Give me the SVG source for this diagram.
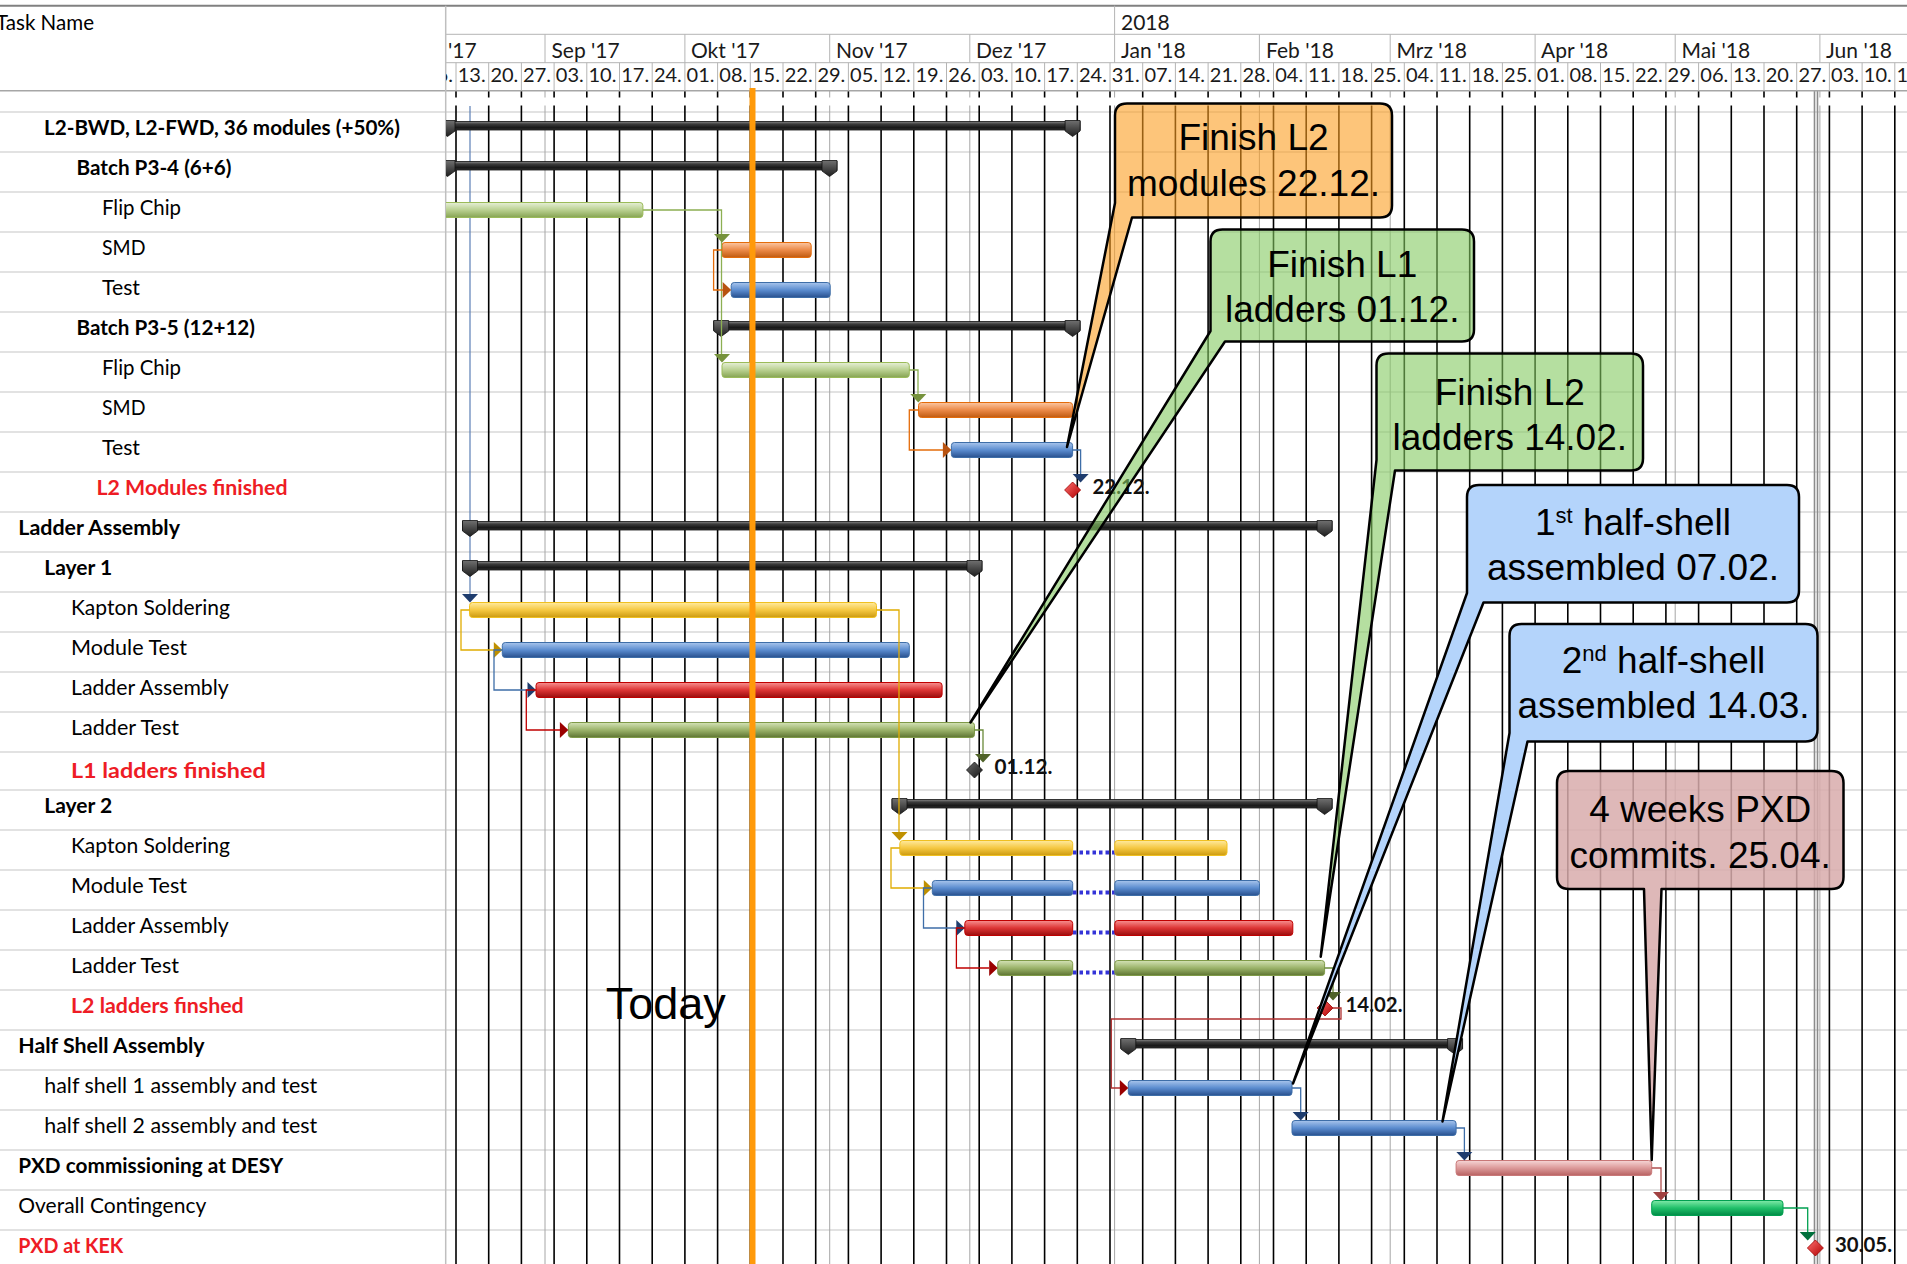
<svg xmlns="http://www.w3.org/2000/svg" xmlns:xlink="http://www.w3.org/1999/xlink" width="1907" height="1264" viewBox="0 0 1907 1264">
<style>
.lbl{font-family:Lato,"Open Sans","Liberation Sans",sans-serif;font-size:21px;fill:#000}
.b{font-weight:bold}
.red{fill:#ee1c25}
.hdr{font-family:Lato,"Open Sans","Liberation Sans",sans-serif;font-size:20px;fill:#1a1a1a}
.mon{font-family:Lato,"Open Sans","Liberation Sans",sans-serif;font-size:21px;fill:#1a1a1a}
.ms{font-family:Lato,"Open Sans","Liberation Sans",sans-serif;font-size:20px;font-weight:bold;fill:#111}
.co{font-family:"Liberation Sans",Arial,sans-serif;font-size:37px;text-anchor:middle;fill:#000}
.row{stroke:#d9d9d9;stroke-width:1.5;fill:none}
.wk{stroke:#000;stroke-width:1.6;fill:none}
.mo{stroke:#a6a6a6;stroke-width:1;fill:none}
.hl{stroke:#b4b4b4;stroke-width:1;fill:none}
.cn{fill:none;stroke-width:1.3}
.callout{stroke:#000;stroke-width:2.5;stroke-linejoin:round}
.bar{stroke-width:1}
</style>
<defs>
<clipPath id="chartClip"><rect x="446" y="0" width="1461" height="1264"/></clipPath>
<linearGradient id="gSum" x1="0" y1="0" x2="0" y2="1"><stop offset="0" stop-color="#8c8c8c"/><stop offset=".3" stop-color="#3c3c3c"/><stop offset=".75" stop-color="#161616"/><stop offset="1" stop-color="#3a3a3a"/></linearGradient>
<linearGradient id="gCap" x1="0" y1="0" x2="0" y2="1"><stop offset="0" stop-color="#707070"/><stop offset="1" stop-color="#1e1e1e"/></linearGradient>
<linearGradient id="gGreen" x1="0" y1="0" x2="0" y2="1"><stop offset="0" stop-color="#e6efd6"/><stop offset=".5" stop-color="#b9d090"/><stop offset="1" stop-color="#86a452"/></linearGradient>
<linearGradient id="gOrange" x1="0" y1="0" x2="0" y2="1"><stop offset="0" stop-color="#fbc6a2"/><stop offset=".5" stop-color="#eb8a48"/><stop offset="1" stop-color="#c05a10"/></linearGradient>
<linearGradient id="gBlue" x1="0" y1="0" x2="0" y2="1"><stop offset="0" stop-color="#a8c5ec"/><stop offset=".5" stop-color="#5b8ccf"/><stop offset="1" stop-color="#28508e"/></linearGradient>
<linearGradient id="gGold" x1="0" y1="0" x2="0" y2="1"><stop offset="0" stop-color="#ffea9e"/><stop offset=".5" stop-color="#f5c842"/><stop offset="1" stop-color="#cc9a10"/></linearGradient>
<linearGradient id="gRed" x1="0" y1="0" x2="0" y2="1"><stop offset="0" stop-color="#f79090"/><stop offset=".5" stop-color="#dd3535"/><stop offset="1" stop-color="#9a0d0d"/></linearGradient>
<linearGradient id="gOlive" x1="0" y1="0" x2="0" y2="1"><stop offset="0" stop-color="#d4e2b6"/><stop offset=".5" stop-color="#9bb36a"/><stop offset="1" stop-color="#5e7532"/></linearGradient>
<linearGradient id="gPink" x1="0" y1="0" x2="0" y2="1"><stop offset="0" stop-color="#f6d6d6"/><stop offset=".5" stop-color="#dc9a9a"/><stop offset="1" stop-color="#b86262"/></linearGradient>
<linearGradient id="gLime" x1="0" y1="0" x2="0" y2="1"><stop offset="0" stop-color="#80eaa8"/><stop offset=".5" stop-color="#20c06a"/><stop offset="1" stop-color="#008a45"/></linearGradient>
<linearGradient id="gDiaRed" x1="0" y1="0" x2="1" y2="1"><stop offset="0" stop-color="#ff7070"/><stop offset="1" stop-color="#b00000"/></linearGradient>
<linearGradient id="gDiaDark" x1="0" y1="0" x2="1" y2="1"><stop offset="0" stop-color="#6a6a6a"/><stop offset="1" stop-color="#151515"/></linearGradient>
<path id="cap" d="M-7.5,8.5H7.5V19L0,24.5L-7.5,19Z"/>
<path id="adown" d="M-8,-8.5H8L0,0Z"/>
<path id="aright" d="M-8.5,-8L0,0L-8.5,8Z"/>
<path id="dia" d="M0,-8L8,0L0,8L-8,0Z"/>
</defs>
<rect x="0" y="0" width="1907" height="1264" fill="#fff"/>

<g id="row-lines">
<path class="row" d="M0,112H1907M0,152H1907M0,192H1907M0,232H1907M0,272H1907M0,312H1907M0,352H1907M0,392H1907M0,432H1907M0,472H1907M0,512H1907M0,552H1907M0,592H1907M0,632H1907M0,672H1907M0,712H1907M0,752H1907M0,790H1907M0,830H1907M0,870H1907M0,910H1907M0,950H1907M0,990H1907M0,1030H1907M0,1070H1907M0,1110H1907M0,1150H1907M0,1190H1907M0,1230H1907"/>
</g>

<g id="grid" clip-path="url(#chartClip)">
<path class="mo" d="M545,91V1264M829.7,91V1264M969.8,91V1264M1114.6,91V1264M1259.4,91V1264M1390.2,91V1264M1675.2,91V1264M1819.9,91V1264"/>
<path class="wk" d="M456,91V1264M488.7,91V1264M521.4,91V1264M554.1,91V1264M586.8,91V1264M619.5,91V1264M652.2,91V1264M684.9,91V1264M717.6,91V1264M750.3,91V1264M783,91V1264M815.7,91V1264M848.4,91V1264M881.1,91V1264M913.8,91V1264M946.5,91V1264M979.2,91V1264M1011.9,91V1264M1044.6,91V1264M1077.3,91V1264M1110,91V1264M1142.7,91V1264M1175.4,91V1264M1208.1,91V1264M1240.8,91V1264M1273.5,91V1264M1306.2,91V1264M1338.9,91V1264M1371.6,91V1264M1404.3,91V1264M1437,91V1264M1469.7,91V1264M1502.4,91V1264M1535.1,91V1264M1567.8,91V1264M1600.5,91V1264M1633.2,91V1264M1665.9,91V1264M1698.6,91V1264M1731.3,91V1264M1764,91V1264M1796.7,91V1264M1829.4,91V1264M1862.1,91V1264M1894.8,91V1264"/>
<rect x="446" y="97.5" width="1461" height="8" fill="#fff"/>
<path d="M1814.5,91V1264M1817.5,91V1264" stroke="#8c8c8c" stroke-width="1.6" fill="none"/>
</g>

<g id="header">
<path d="M0,5.7H1907" stroke="#808080" stroke-width="2"/>
<path d="M0,90.7H1907" stroke="#a6a6a6" stroke-width="1.5"/>
<path class="hl" d="M446,34.3H1907M446,62.7H1907"/>
<path d="M445.7,5.7V1264" stroke="#bfbfbf" stroke-width="1.5"/>
<g clip-path="url(#chartClip)">
<path class="hl" d="M1114.6,5.7V34.3M545,34.3V62.7M684.9,34.3V62.7M829.7,34.3V62.7M969.8,34.3V62.7M1114.6,34.3V62.7M1259.4,34.3V62.7M1390.2,34.3V62.7M1535.1,34.3V62.7M1675.2,34.3V62.7M1819.9,34.3V62.7"/>
<path class="hl" d="M423.3,62.7V90.7M456,62.7V90.7M488.7,62.7V90.7M521.4,62.7V90.7M554.1,62.7V90.7M586.8,62.7V90.7M619.5,62.7V90.7M652.2,62.7V90.7M684.9,62.7V90.7M717.6,62.7V90.7M750.3,62.7V90.7M783,62.7V90.7M815.7,62.7V90.7M848.4,62.7V90.7M881.1,62.7V90.7M913.8,62.7V90.7M946.5,62.7V90.7M979.2,62.7V90.7M1011.9,62.7V90.7M1044.6,62.7V90.7M1077.3,62.7V90.7M1110,62.7V90.7M1142.7,62.7V90.7M1175.4,62.7V90.7M1208.1,62.7V90.7M1240.8,62.7V90.7M1273.5,62.7V90.7M1306.2,62.7V90.7M1338.9,62.7V90.7M1371.6,62.7V90.7M1404.3,62.7V90.7M1437,62.7V90.7M1469.7,62.7V90.7M1502.4,62.7V90.7M1535.1,62.7V90.7M1567.8,62.7V90.7M1600.5,62.7V90.7M1633.2,62.7V90.7M1665.9,62.7V90.7M1698.6,62.7V90.7M1731.3,62.7V90.7M1764,62.7V90.7M1796.7,62.7V90.7M1829.4,62.7V90.7M1862.1,62.7V90.7M1894.8,62.7V90.7"/>
<text class="mon" x="1121" y="30">2018</text>
<text class="mon" x="406" y="58">Aug '17</text>
<text class="mon" x="551.5" y="58">Sep '17</text>
<text class="mon" x="691" y="58">Okt '17</text>
<text class="mon" x="836" y="58">Nov '17</text>
<text class="mon" x="976" y="58">Dez '17</text>
<text class="mon" x="1121" y="58">Jan '18</text>
<text class="mon" x="1266" y="58">Feb '18</text>
<text class="mon" x="1396.5" y="58">Mrz '18</text>
<text class="mon" x="1541" y="58">Apr '18</text>
<text class="mon" x="1681.5" y="58">Mai '18</text>
<text class="mon" x="1826" y="58">Jun '18</text>
<text class="hdr" x="425" y="81.5">06.</text>
<text class="hdr" x="457.7" y="81.5">13.</text>
<text class="hdr" x="490.4" y="81.5">20.</text>
<text class="hdr" x="523.1" y="81.5">27.</text>
<text class="hdr" x="555.8" y="81.5">03.</text>
<text class="hdr" x="588.5" y="81.5">10.</text>
<text class="hdr" x="621.2" y="81.5">17.</text>
<text class="hdr" x="653.9" y="81.5">24.</text>
<text class="hdr" x="686.6" y="81.5">01.</text>
<text class="hdr" x="719.3" y="81.5">08.</text>
<text class="hdr" x="752" y="81.5">15.</text>
<text class="hdr" x="784.7" y="81.5">22.</text>
<text class="hdr" x="817.4" y="81.5">29.</text>
<text class="hdr" x="850.1" y="81.5">05.</text>
<text class="hdr" x="882.8" y="81.5">12.</text>
<text class="hdr" x="915.5" y="81.5">19.</text>
<text class="hdr" x="948.2" y="81.5">26.</text>
<text class="hdr" x="980.9" y="81.5">03.</text>
<text class="hdr" x="1013.6" y="81.5">10.</text>
<text class="hdr" x="1046.3" y="81.5">17.</text>
<text class="hdr" x="1079" y="81.5">24.</text>
<text class="hdr" x="1111.7" y="81.5">31.</text>
<text class="hdr" x="1144.4" y="81.5">07.</text>
<text class="hdr" x="1177.1" y="81.5">14.</text>
<text class="hdr" x="1209.8" y="81.5">21.</text>
<text class="hdr" x="1242.5" y="81.5">28.</text>
<text class="hdr" x="1275.2" y="81.5">04.</text>
<text class="hdr" x="1307.9" y="81.5">11.</text>
<text class="hdr" x="1340.6" y="81.5">18.</text>
<text class="hdr" x="1373.3" y="81.5">25.</text>
<text class="hdr" x="1406" y="81.5">04.</text>
<text class="hdr" x="1438.7" y="81.5">11.</text>
<text class="hdr" x="1471.4" y="81.5">18.</text>
<text class="hdr" x="1504.1" y="81.5">25.</text>
<text class="hdr" x="1536.8" y="81.5">01.</text>
<text class="hdr" x="1569.5" y="81.5">08.</text>
<text class="hdr" x="1602.2" y="81.5">15.</text>
<text class="hdr" x="1634.9" y="81.5">22.</text>
<text class="hdr" x="1667.6" y="81.5">29.</text>
<text class="hdr" x="1700.3" y="81.5">06.</text>
<text class="hdr" x="1733" y="81.5">13.</text>
<text class="hdr" x="1765.7" y="81.5">20.</text>
<text class="hdr" x="1798.4" y="81.5">27.</text>
<text class="hdr" x="1831.1" y="81.5">03.</text>
<text class="hdr" x="1863.8" y="81.5">10.</text>
<text class="hdr" x="1896.5" y="81.5">17.</text>
</g>
<text class="lbl" x="-4" y="30" textLength="98" lengthAdjust="spacingAndGlyphs">Task Name</text>
</g>

<g id="table">
<text class="lbl b" x="44" y="135" textLength="356" lengthAdjust="spacingAndGlyphs">L2-BWD, L2-FWD, 36 modules (+50%)</text>
<text class="lbl b" x="76.5" y="175" textLength="155" lengthAdjust="spacingAndGlyphs">Batch P3-4 (6+6)</text>
<text class="lbl" x="102" y="215" textLength="79" lengthAdjust="spacingAndGlyphs">Flip Chip</text>
<text class="lbl" x="102" y="255" textLength="43.5" lengthAdjust="spacingAndGlyphs">SMD</text>
<text class="lbl" x="102" y="295" textLength="38" lengthAdjust="spacingAndGlyphs">Test</text>
<text class="lbl b" x="76.5" y="335" textLength="178.5" lengthAdjust="spacingAndGlyphs">Batch P3-5 (12+12)</text>
<text class="lbl" x="102" y="375" textLength="79" lengthAdjust="spacingAndGlyphs">Flip Chip</text>
<text class="lbl" x="102" y="415" textLength="43.5" lengthAdjust="spacingAndGlyphs">SMD</text>
<text class="lbl" x="102" y="455" textLength="38" lengthAdjust="spacingAndGlyphs">Test</text>
<text class="lbl b red" x="96.5" y="495" textLength="191" lengthAdjust="spacingAndGlyphs">L2 Modules finished</text>
<text class="lbl b" x="18.3" y="535" textLength="161.7" lengthAdjust="spacingAndGlyphs">Ladder Assembly</text>
<text class="lbl b" x="44.3" y="575" textLength="68" lengthAdjust="spacingAndGlyphs">Layer 1</text>
<text class="lbl" x="71" y="615" textLength="159" lengthAdjust="spacingAndGlyphs">Kapton Soldering</text>
<text class="lbl" x="71" y="655" textLength="116" lengthAdjust="spacingAndGlyphs">Module Test</text>
<text class="lbl" x="71" y="695" textLength="157.7" lengthAdjust="spacingAndGlyphs">Ladder Assembly</text>
<text class="lbl" x="71" y="735" textLength="108" lengthAdjust="spacingAndGlyphs">Ladder Test</text>
<text class="lbl b red" x="71" y="778" textLength="194.7" lengthAdjust="spacingAndGlyphs">L1 ladders finished</text>
<text class="lbl b" x="44.3" y="813" textLength="68" lengthAdjust="spacingAndGlyphs">Layer 2</text>
<text class="lbl" x="71" y="853" textLength="159" lengthAdjust="spacingAndGlyphs">Kapton Soldering</text>
<text class="lbl" x="71" y="893" textLength="116" lengthAdjust="spacingAndGlyphs">Module Test</text>
<text class="lbl" x="71" y="933" textLength="157.7" lengthAdjust="spacingAndGlyphs">Ladder Assembly</text>
<text class="lbl" x="71" y="973" textLength="108" lengthAdjust="spacingAndGlyphs">Ladder Test</text>
<text class="lbl b red" x="71" y="1013" textLength="172.7" lengthAdjust="spacingAndGlyphs">L2 ladders finshed</text>
<text class="lbl b" x="18.3" y="1053" textLength="186.3" lengthAdjust="spacingAndGlyphs">Half Shell Assembly</text>
<text class="lbl" x="44.3" y="1093" textLength="273" lengthAdjust="spacingAndGlyphs">half shell 1 assembly and test</text>
<text class="lbl" x="44.3" y="1133" textLength="273" lengthAdjust="spacingAndGlyphs">half shell 2 assembly and test</text>
<text class="lbl b" x="18.3" y="1173" textLength="265" lengthAdjust="spacingAndGlyphs">PXD commissioning at DESY</text>
<text class="lbl" x="18.3" y="1213" textLength="188" lengthAdjust="spacingAndGlyphs">Overall Contingency</text>
<text class="lbl b red" x="18.3" y="1253" textLength="105" lengthAdjust="spacingAndGlyphs">PXD at KEK</text>
</g>

<g id="chart" clip-path="url(#chartClip)">
<path id="start-line" d="M470,106V594" stroke="#5b7fb5" stroke-width="1.2" fill="none"/>

<g id="sum-l2" ><rect x="440" y="121.5" width="640.1" height="8.5" fill="url(#gSum)" stroke="#111" stroke-width=".8"/><use href="#cap" x="447.5" y="112" fill="url(#gCap)" stroke="#111" stroke-width=".8"/><use href="#cap" x="1072.6" y="112" fill="url(#gCap)" stroke="#111" stroke-width=".8"/></g>
<g id="sum-p34"><rect x="440" y="161.5" width="397" height="8.5" fill="url(#gSum)" stroke="#111" stroke-width=".8"/><use href="#cap" x="447.5" y="152" fill="url(#gCap)" stroke="#111" stroke-width=".8"/><use href="#cap" x="829.5" y="152" fill="url(#gCap)" stroke="#111" stroke-width=".8"/></g>
<g id="fc1"><rect class="bar" x="440" y="202.5" width="202.9" height="15" rx="3" fill="url(#gGreen)" stroke="#9bbb59"/></g>
<g id="smd1"><rect class="bar" x="722" y="242.5" width="89.2" height="15" rx="3" fill="url(#gOrange)" stroke="#e46c0a"/></g>
<g id="test1"><rect class="bar" x="731.2" y="282.5" width="99" height="15" rx="3" fill="url(#gBlue)" stroke="#3e6ea8"/></g>
<g id="sum-p35"><rect x="713.7" y="321.5" width="366.4" height="8.5" fill="url(#gSum)" stroke="#111" stroke-width=".8"/><use href="#cap" x="721.2" y="312" fill="url(#gCap)" stroke="#111" stroke-width=".8"/><use href="#cap" x="1072.6" y="312" fill="url(#gCap)" stroke="#111" stroke-width=".8"/></g>
<g id="fc2"><rect class="bar" x="722" y="362.5" width="187.3" height="15" rx="3" fill="url(#gGreen)" stroke="#9bbb59"/></g>
<g id="smd2"><rect class="bar" x="918.5" y="402.5" width="154.1" height="15" rx="3" fill="url(#gOrange)" stroke="#e46c0a"/></g>
<g id="test2"><rect class="bar" x="951.4" y="442.5" width="121.2" height="15" rx="3" fill="url(#gBlue)" stroke="#3e6ea8"/></g>
<g id="ms-l2mod"><use href="#dia" x="1072.6" y="490" fill="url(#gDiaRed)" stroke="#a00000" stroke-width=".8"/><text class="ms" x="1092.5" y="493.5" textLength="57" lengthAdjust="spacingAndGlyphs">22.12.</text></g>
<g id="sum-ladder"><rect x="462.5" y="521.5" width="869.6" height="8.5" fill="url(#gSum)" stroke="#111" stroke-width=".8"/><use href="#cap" x="470" y="512" fill="url(#gCap)" stroke="#111" stroke-width=".8"/><use href="#cap" x="1324.6" y="512" fill="url(#gCap)" stroke="#111" stroke-width=".8"/></g>
<g id="sum-layer1"><rect x="462.5" y="561.5" width="519.5" height="8.5" fill="url(#gSum)" stroke="#111" stroke-width=".8"/><use href="#cap" x="470" y="552" fill="url(#gCap)" stroke="#111" stroke-width=".8"/><use href="#cap" x="974.5" y="552" fill="url(#gCap)" stroke="#111" stroke-width=".8"/></g>
<g id="kapton1"><rect class="bar" x="469.5" y="602.5" width="407" height="15" rx="3" fill="url(#gGold)" stroke="#f0c020"/></g>
<g id="mtest1"><rect class="bar" x="502.3" y="642.5" width="407" height="15" rx="3" fill="url(#gBlue)" stroke="#3e6ea8"/></g>
<g id="lassy1"><rect class="bar" x="536" y="682.5" width="406.1" height="15" rx="3" fill="url(#gRed)" stroke="#c00000"/></g>
<g id="ltest1"><rect class="bar" x="568.4" y="722.5" width="406.1" height="15" rx="3" fill="url(#gOlive)" stroke="#7f9a48"/></g>
<g id="ms-l1"><use href="#dia" x="974.5" y="770" fill="url(#gDiaDark)" stroke="#111" stroke-width=".8"/><text class="ms" x="994.5" y="773.5" textLength="58" lengthAdjust="spacingAndGlyphs">01.12.</text></g>
<g id="sum-layer2"><rect x="892" y="799.5" width="440.1" height="8.5" fill="url(#gSum)" stroke="#111" stroke-width=".8"/><use href="#cap" x="899.5" y="790" fill="url(#gCap)" stroke="#111" stroke-width=".8"/><use href="#cap" x="1324.6" y="790" fill="url(#gCap)" stroke="#111" stroke-width=".8"/></g>
<g id="kapton2"><rect class="bar" x="899.8" y="840.5" width="172.9" height="15" rx="3" fill="url(#gGold)" stroke="#f0c020"/><line x1="1073" y1="852.5" x2="1114.8" y2="852.5" stroke="#3434d8" stroke-width="4" stroke-dasharray="3.5 3"/><rect class="bar" x="1114.8" y="840.5" width="112.2" height="15" rx="3" fill="url(#gGold)" stroke="#f0c020"/></g>
<g id="mtest2"><rect class="bar" x="932.3" y="880.5" width="140.4" height="15" rx="3" fill="url(#gBlue)" stroke="#3e6ea8"/><line x1="1073" y1="892.5" x2="1114.8" y2="892.5" stroke="#3434d8" stroke-width="4" stroke-dasharray="3.5 3"/><rect class="bar" x="1114.8" y="880.5" width="144.7" height="15" rx="3" fill="url(#gBlue)" stroke="#3e6ea8"/></g>
<g id="lassy2"><rect class="bar" x="964.8" y="920.5" width="107.9" height="15" rx="3" fill="url(#gRed)" stroke="#c00000"/><line x1="1073" y1="932.5" x2="1114.8" y2="932.5" stroke="#3434d8" stroke-width="4" stroke-dasharray="3.5 3"/><rect class="bar" x="1114.8" y="920.5" width="178" height="15" rx="3" fill="url(#gRed)" stroke="#c00000"/></g>
<g id="ltest2"><rect class="bar" x="997.7" y="960.5" width="75" height="15" rx="3" fill="url(#gOlive)" stroke="#7f9a48"/><line x1="1073" y1="972.5" x2="1114.8" y2="972.5" stroke="#3434d8" stroke-width="4" stroke-dasharray="3.5 3"/><rect class="bar" x="1114.8" y="960.5" width="209.8" height="15" rx="3" fill="url(#gOlive)" stroke="#7f9a48"/></g>
<g id="ms-l2lad"><use href="#dia" x="1325" y="1008" fill="url(#gDiaRed)" stroke="#a00000" stroke-width=".8"/><text class="ms" x="1345.5" y="1011.5" textLength="57" lengthAdjust="spacingAndGlyphs">14.02.</text></g>
<g id="sum-halfshell"><rect x="1120.8" y="1039.5" width="341.8" height="8.5" fill="url(#gSum)" stroke="#111" stroke-width=".8"/><use href="#cap" x="1128.3" y="1030" fill="url(#gCap)" stroke="#111" stroke-width=".8"/><use href="#cap" x="1455.1" y="1030" fill="url(#gCap)" stroke="#111" stroke-width=".8"/></g>
<g id="hs1"><rect class="bar" x="1128.3" y="1080.5" width="163.7" height="15" rx="3" fill="url(#gBlue)" stroke="#3e6ea8"/></g>
<g id="hs2"><rect class="bar" x="1292" y="1120.5" width="164.1" height="15" rx="3" fill="url(#gBlue)" stroke="#3e6ea8"/></g>
<g id="pxd-desy"><rect class="bar" x="1456.1" y="1160.5" width="195.6" height="15" rx="3" fill="url(#gPink)" stroke="#c87878"/></g>
<g id="contingency"><rect class="bar" x="1651.7" y="1200.5" width="131.3" height="15" rx="3" fill="url(#gLime)" stroke="#00a050"/></g>
<g id="ms-kek"><use href="#dia" x="1815.4" y="1248" fill="url(#gDiaRed)" stroke="#a00000" stroke-width=".8"/><text class="ms" x="1835" y="1251.5" textLength="57" lengthAdjust="spacingAndGlyphs">30.05.</text></g>

<g id="connectors">
<path class="cn" stroke="#8caf52" d="M642.9,210H721.5V354"/>
<use href="#adown" x="722" y="242.5" fill="#76923c"/>
<use href="#adown" x="722" y="362.5" fill="#76923c"/>
<path class="cn" stroke="#e46c0a" d="M722,250H713.6V290H723"/>
<use href="#aright" x="731.2" y="290" fill="#b85310"/>
<path class="cn" stroke="#8caf52" d="M909.3,370H918V394"/>
<use href="#adown" x="918.3" y="402.5" fill="#76923c"/>
<path class="cn" stroke="#e46c0a" d="M918.5,410H909.3V450H943"/>
<use href="#aright" x="951.4" y="450" fill="#b85310"/>
<path class="cn" stroke="#3e6ea8" d="M1072.6,450H1080.6V474"/>
<use href="#adown" x="1080.6" y="482.5" fill="#1f3d6e"/>
<use href="#adown" x="470" y="602.5" fill="#1f3d6e"/>
<path class="cn" stroke="#e0ac00" d="M469.5,610H461V650H494"/>
<use href="#aright" x="502.3" y="650" fill="#bf9000"/>
<path class="cn" stroke="#e0ac00" d="M876.5,610H899V832"/>
<use href="#adown" x="899.5" y="840.5" fill="#bf9000"/>
<path class="cn" stroke="#3e6ea8" d="M502.3,650H494V690H527.5"/>
<use href="#aright" x="536" y="690" fill="#1f3d6e"/>
<path class="cn" stroke="#c00000" d="M536,690H526.3V730H560"/>
<use href="#aright" x="568.4" y="730" fill="#9a0000"/>
<path class="cn" stroke="#6a8a3a" d="M974.5,730H983V754"/>
<use href="#adown" x="983" y="762.5" fill="#4f6228"/>
<path class="cn" stroke="#e0ac00" d="M899.8,848H891V888H924"/>
<use href="#aright" x="932.3" y="888" fill="#bf9000"/>
<path class="cn" stroke="#3e6ea8" d="M932.3,888H923.5V928H956.4"/>
<use href="#aright" x="964.8" y="928" fill="#1f3d6e"/>
<path class="cn" stroke="#c00000" d="M964.8,928H956.4V968H989"/>
<use href="#aright" x="997.7" y="968" fill="#9a0000"/>
<path class="cn" stroke="#6a8a3a" d="M1324.6,968H1333V992"/>
<use href="#adown" x="1333" y="1000.5" fill="#4f6228"/>
<path class="cn" stroke="#b03030" d="M1333,1008H1341V1019H1111.3V1088H1120"/>
<use href="#aright" x="1128.3" y="1088" fill="#9a0000"/>
<path class="cn" stroke="#3e6ea8" d="M1292,1088H1300.7V1112"/>
<use href="#adown" x="1300.7" y="1120.5" fill="#1f3d6e"/>
<path class="cn" stroke="#3e6ea8" d="M1456.1,1128H1464.4V1152"/>
<use href="#adown" x="1464.4" y="1160.5" fill="#1f3d6e"/>
<path class="cn" stroke="#b05050" d="M1651.7,1168H1661V1192"/>
<use href="#adown" x="1661" y="1200.5" fill="#a04040"/>
<path class="cn" stroke="#00a050" d="M1783,1208H1807.7V1232"/>
<use href="#adown" x="1807.7" y="1240.5" fill="#00703c"/>
</g>

<rect id="today-line" x="749.5" y="88" width="6" height="1176" fill="#ff9a0a"/>
<text id="today" x="605.7" y="1019" font-family="'Liberation Sans',Arial,sans-serif" font-size="45" fill="#000">Today</text>

<g id="callout-l2mod"><path class="callout" fill="#fc9e21" fill-opacity=".6" d="M1127,103.5H1380Q1392,103.5 1392,115.5V205.5Q1392,217.5 1380,217.5H1132L1067,447L1115,203V115.5Q1115,103.5 1127,103.5Z"/><text class="co" x="1253.5" y="150">Finish L2</text><text class="co" x="1253.5" y="196">modules 22.12.</text></g>
<g id="callout-l1"><path class="callout" fill="#84ca61" fill-opacity=".6" d="M1222.5,229.5H1462Q1474,229.5 1474,241.5V329.5Q1474,341.5 1462,341.5H1225L970.5,722.5L1210.5,331V241.5Q1210.5,229.5 1222.5,229.5Z"/><text class="co" x="1342.2" y="276.7">Finish L1</text><text class="co" x="1342.2" y="321.7">ladders 01.12.</text></g>
<g id="callout-l2lad"><path class="callout" fill="#84ca61" fill-opacity=".6" d="M1388.5,353.5H1631Q1643,353.5 1643,365.5V458.5Q1643,470.5 1631,470.5H1395L1320.7,956.7L1376.5,460V365.5Q1376.5,353.5 1388.5,353.5Z"/><text class="co" x="1509.8" y="405">Finish L2</text><text class="co" x="1509.8" y="450">ladders 14.02.</text></g>
<g id="callout-hs1"><path class="callout" fill="#b4d4fb" d="M1479,485H1787Q1799,485 1799,497V590.5Q1799,602.5 1787,602.5H1483.5L1293,1083.5L1467,593V497Q1467,485 1479,485Z"/><text class="co" x="1633" y="535">1<tspan font-size="22" dy="-12">st</tspan><tspan dy="12"> half-shell</tspan></text><text class="co" x="1633" y="580">assembled 07.02.</text></g>
<g id="callout-hs2"><path class="callout" fill="#b4d4fb" d="M1521.5,624H1805.5Q1817.5,624 1817.5,636V729.5Q1817.5,741.5 1805.5,741.5H1527.5L1442.5,1121.5L1509.5,733V636Q1509.5,624 1521.5,624Z"/><text class="co" x="1663.5" y="673.3">2<tspan font-size="22" dy="-12">nd</tspan><tspan dy="12"> half-shell</tspan></text><text class="co" x="1663.5" y="718.3">assembled 14.03.</text></g>
<g id="callout-pxd"><path class="callout" fill="#d8abab" fill-opacity=".85" d="M1569,771H1831.5Q1843.5,771 1843.5,783V877Q1843.5,889 1831.5,889H1661.5L1651.7,1160L1644,889H1569Q1557,889 1557,877V783Q1557,771 1569,771Z"/><text class="co" x="1700.2" y="822.3">4 weeks PXD</text><text class="co" x="1700.2" y="868.3">commits. 25.04.</text></g>
</g>
</svg>
